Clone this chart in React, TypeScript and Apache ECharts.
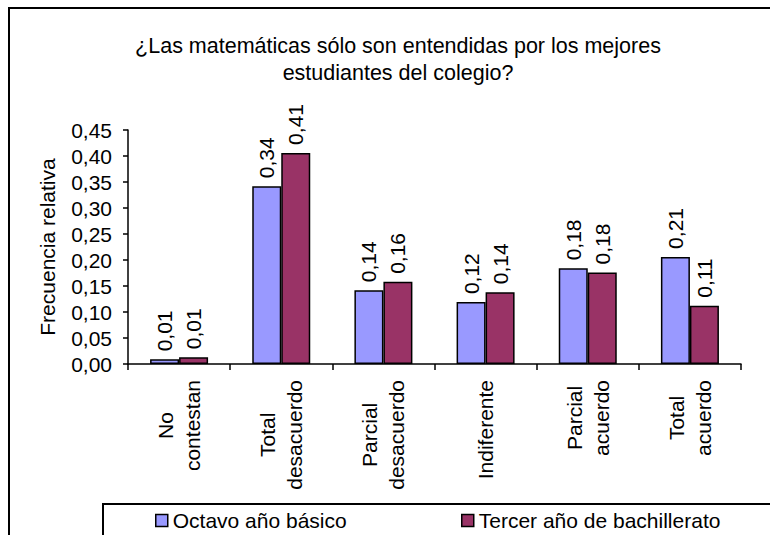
import React, { useEffect, useRef } from "react";
import * as echarts from "echarts";

const titleText = "¿Las matemáticas sólo son entendidas por los mejores\nestudiantes del colegio?";
const categories = [
  "No\ncontestan",
  "Total\ndesacuerdo",
  "Parcial\ndesacuerdo",
  "Indiferente",
  "Parcial\nacuerdo",
  "Total\nacuerdo",
];
const seriesNames = ["Octavo año básico", "Tercer año de bachillerato"];
const octavo = [0.009, 0.342, 0.142, 0.119, 0.184, 0.206];
const tercer = [0.013, 0.406, 0.158, 0.138, 0.176, 0.112];
const yAxisName = "Frecuencia relativa";

const FONT = "'Liberation Sans', Arial, Helvetica, sans-serif";
const fmt = (v: number) => v.toFixed(2).replace(".", ",");

export default function App() {
  const ref = useRef<HTMLDivElement>(null);
  useEffect(() => {
    if (!ref.current) return;
    const chart = echarts.init(ref.current, null, { renderer: "svg" });
    const barLabel = {
      show: true,
      position: "top",
      rotate: 90,
      align: "left",
      verticalAlign: "middle",
      distance: 8,
      fontSize: 21,
      fontFamily: FONT,
      color: "#000",
      formatter: (p: any) => fmt(p.value),
    };
    chart.setOption({
      animation: false,
      backgroundColor: "#fff",
      textStyle: { fontFamily: FONT },
      graphic: [
        {
          type: "rect",
          z: -10,
          shape: { x: 9, y: 8, width: 900, height: 800 },
          style: { fill: "none", stroke: "#000", lineWidth: 2 },
        },
        {
          type: "rect",
          z: -5,
          shape: { x: 103, y: 504, width: 900, height: 200 },
          style: { fill: "#fff", stroke: "#000", lineWidth: 2 },
        },
        {
          type: "text",
          x: 398,
          y: 32,
          style: {
            text: titleText,
            textAlign: "center",
            textVerticalAlign: "top",
            fontSize: 21.5,
            lineHeight: 27,
            fontFamily: FONT,
            fill: "#000",
          },
        },
      ],
      legend: [
        {
          data: [seriesNames[0]],
          left: 155,
          top: 510,
          padding: 0,
          icon: "rect",
          itemWidth: 12,
          itemHeight: 12,
          itemStyle: { borderColor: "#000", borderWidth: 1.5 },
          textStyle: { fontSize: 21, color: "#000", fontFamily: FONT },
          selectedMode: false,
        },
        {
          data: [seriesNames[1]],
          left: 461,
          top: 510,
          padding: 0,
          icon: "rect",
          itemWidth: 12,
          itemHeight: 12,
          itemStyle: { borderColor: "#000", borderWidth: 1.5 },
          textStyle: { fontSize: 21, color: "#000", fontFamily: FONT },
          selectedMode: false,
        },
      ],
      grid: { left: 128, top: 130, width: 613, height: 234, containLabel: false },
      xAxis: {
        type: "category",
        data: categories,
        axisLine: { lineStyle: { color: "#000", width: 1.5 } },
        axisTick: { show: true, length: 6, interval: 0, lineStyle: { color: "#000", width: 1.5 } },
        axisLabel: {
          interval: 0,
          rotate: 90,
          margin: 16,
          color: "#000",
          formatter: (v: string) =>
            v
              .split("\n")
              .map((l) => `{c|${l}}`)
              .join("\n"),
          rich: {
            c: { align: "center", fontSize: 21, lineHeight: 27, fontFamily: FONT, color: "#000" },
          },
        },
        splitLine: { show: false },
      },
      yAxis: {
        type: "value",
        min: 0,
        max: 0.45,
        interval: 0.05,
        name: yAxisName,
        nameLocation: "middle",
        nameGap: 70,
        nameRotate: 90,
        nameTextStyle: { fontSize: 21, color: "#000", fontFamily: FONT },
        axisLine: { show: true, lineStyle: { color: "#000", width: 1.5 } },
        axisTick: { show: true, length: 5, lineStyle: { color: "#000", width: 1.5 } },
        axisLabel: { margin: 16, fontSize: 21, color: "#000", fontFamily: FONT, formatter: (v: number) => fmt(v) },
        splitLine: { show: false },
      },
      series: [
        {
          name: seriesNames[0],
          type: "bar",
          data: octavo,
          barWidth: 29,
          barGap: "0%",
          itemStyle: { color: "#9999FF", borderColor: "#000", borderWidth: 1.5 },
          label: barLabel,
        },
        {
          name: seriesNames[1],
          type: "bar",
          data: tercer,
          barWidth: 29,
          barGap: "0%",
          itemStyle: { color: "#993366", borderColor: "#000", borderWidth: 1.5 },
          label: barLabel,
        },
      ],
    });
    return () => chart.dispose();
  }, []);
  return (
    <div
      ref={ref}
      style={{ position: "fixed", left: 0, top: 0, width: 770, height: 535, background: "#fff" }}
    />
  );
}
